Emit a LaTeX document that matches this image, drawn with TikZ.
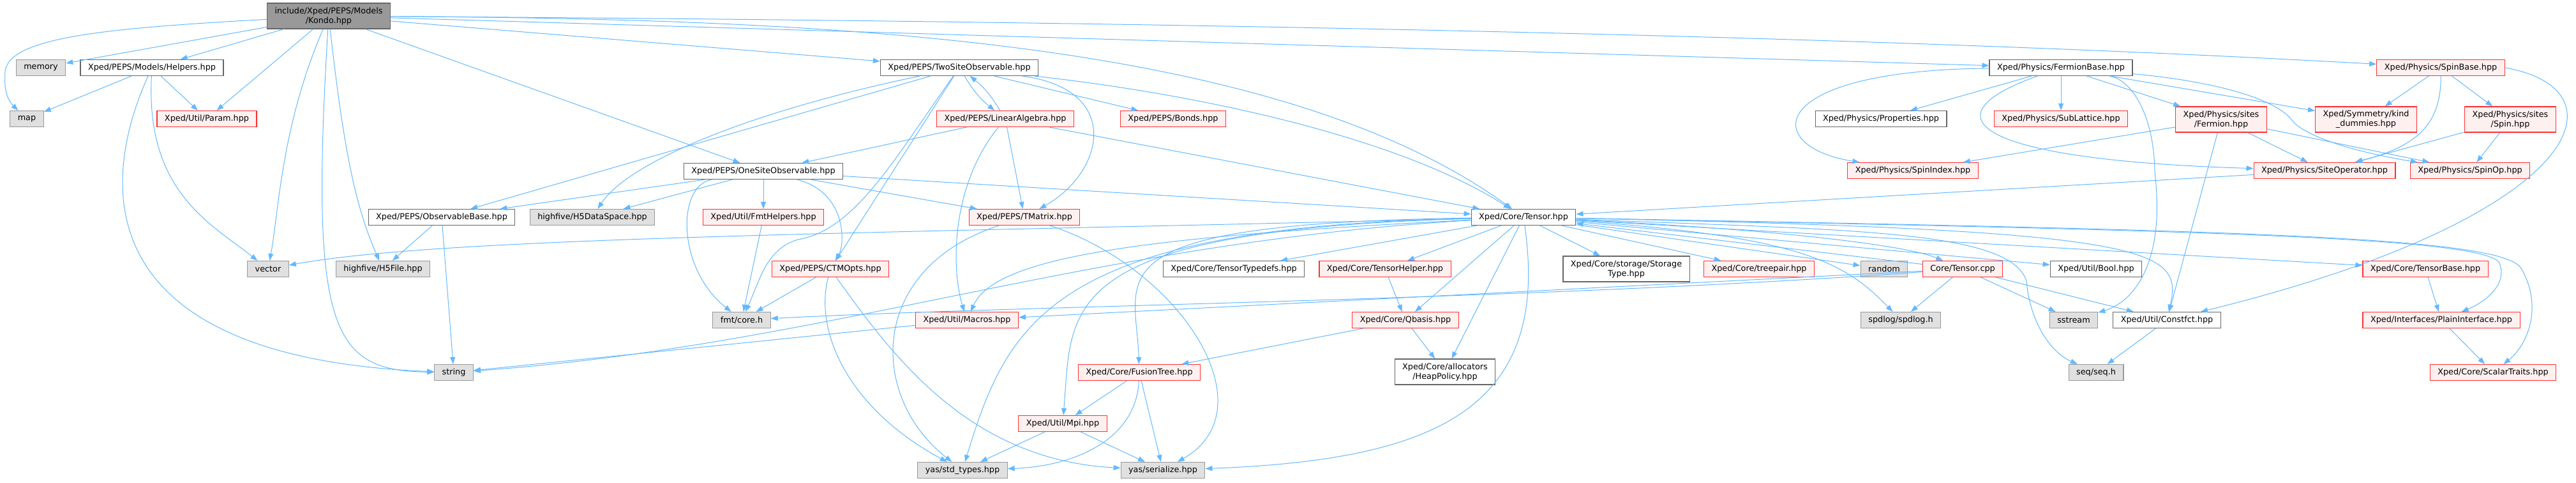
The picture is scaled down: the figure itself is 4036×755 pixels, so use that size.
\documentclass[tikz,border=0pt]{standalone}
\usepackage{fontspec}
\usepackage{tikz}
\usetikzlibrary{arrows.meta}
\newfontfamily\graphfont{DejaVu Sans}
\definecolor{edgeBlue}{HTML}{63B8FF}
\definecolor{boxGray}{HTML}{666666}
\definecolor{sysGray}{HTML}{999999}
\definecolor{sysFill}{HTML}{E0E0E0}
\definecolor{rootFill}{HTML}{999999}
\definecolor{missRed}{HTML}{FF3030}
\definecolor{missFill}{HTML}{FFF0F0}

\begin{document}
\begin{tikzpicture}[x=0.5pt, y=-0.5pt,
    fileBox/.style={rectangle, draw=boxGray, fill=white, line width=0.55pt, font=\graphfont\fontsize{6.4}{7.5}\selectfont, inner xsep=6pt, inner ysep=0pt, minimum height=12.5pt, align=center},
    sysBox/.style={fileBox, draw=sysGray, fill=sysFill},
    redBox/.style={fileBox, draw=missRed, fill=missFill},
    rootBox/.style={fileBox, draw=boxGray, fill=rootFill},
    twoLine/.style={minimum height=20pt},
    arrowStyle/.style={-{Triangle[length=5.5pt, width=4pt]}, draw=edgeBlue, line width=0.5pt}
]
    \useasboundingbox (0,0) rectangle (4036,755);

    \node[rootBox, twoLine] (kondo) at (515, 25) {include/Xped/PEPS/Models\\/Kondo.hpp};

    \node[sysBox] (memory) at (64, 106) {memory};
    \node[fileBox] (helpers) at (238, 106) {Xped/PEPS/Models/Helpers.hpp};
    \node[fileBox] (twosite) at (1503, 106) {Xped/PEPS/TwoSiteObservable.hpp};
    \node[fileBox] (fermbase) at (3229, 106) {Xped/Physics/FermionBase.hpp};
    \node[redBox] (spinbase) at (3824, 106) {Xped/Physics/SpinBase.hpp};

    \node[sysBox] (map) at (42, 186) {map};
    \node[redBox] (param) at (324, 186) {Xped/Util/Param.hpp};
    \node[redBox] (linalg) at (1575, 186) {Xped/PEPS/LinearAlgebra.hpp};
    \node[redBox] (bonds) at (1838, 186) {Xped/PEPS/Bonds.hpp};
    \node[fileBox] (props) at (2947, 186) {Xped/Physics/Properties.hpp};
    \node[redBox] (sublat) at (3229, 186) {Xped/Physics/SubLattice.hpp};
    \node[redBox, twoLine] (sfermion) at (3480, 187) {Xped/Physics/sites\\/Fermion.hpp};
    \node[redBox, twoLine] (kind) at (3707, 187) {Xped/Symmetry/kind\\\_dummies.hpp};
    \node[redBox, twoLine] (sspin) at (3933, 187) {Xped/Physics/sites\\/Spin.hpp};

    \node[fileBox] (onesite) at (1196, 268) {Xped/PEPS/OneSiteObservable.hpp};
    \node[redBox] (spinidx) at (2997, 267) {Xped/Physics/SpinIndex.hpp};
    \node[redBox] (siteop) at (3642, 267) {Xped/Physics/SiteOperator.hpp};
    \node[redBox] (spinop) at (3870, 267) {Xped/Physics/SpinOp.hpp};

    \node[fileBox] (obsbase) at (692, 340) {Xped/PEPS/ObservableBase.hpp};
    \node[sysBox] (hdspace) at (928, 340) {highfive/H5DataSpace.hpp};
    \node[redBox] (fmthelp) at (1196, 340) {Xped/Util/FmtHelpers.hpp};
    \node[redBox] (tmatrix) at (1605, 340) {Xped/PEPS/TMatrix.hpp};
    \node[fileBox] (tensor) at (2387, 340) {Xped/Core/Tensor.hpp};

    \node[sysBox] (vector) at (420, 421) {vector};
    \node[sysBox] (hfile) at (600, 421) {highfive/H5File.hpp};
    \node[redBox] (ctmopts) at (1301, 421) {Xped/PEPS/CTMOpts.hpp};
    \node[fileBox] (typedefs) at (1933, 421) {Xped/Core/TensorTypedefs.hpp};
    \node[redBox] (thelper) at (2170, 421) {Xped/Core/TensorHelper.hpp};
    \node[fileBox, twoLine] (storage) at (2548, 421) {Xped/Core/storage/Storage\\Type.hpp};
    \node[redBox] (treepair) at (2756, 421) {Xped/Core/treepair.hpp};
    \node[sysBox] (random) at (2952, 421) {random};
    \node[redBox] (tcpp) at (3075, 421) {Core/Tensor.cpp};
    \node[fileBox] (boolh) at (3284, 421) {Xped/Util/Bool.hpp};
    \node[redBox] (tbase) at (3800, 421) {Xped/Core/TensorBase.hpp};

    \node[sysBox] (fmtcore) at (1162, 501) {fmt/core.h};
    \node[redBox] (macros) at (1515, 501) {Xped/Util/Macros.hpp};
    \node[redBox] (qbasis) at (2202, 501) {Xped/Core/Qbasis.hpp};
    \node[sysBox] (spdlog) at (2978, 501) {spdlog/spdlog.h};
    \node[sysBox] (sstream) at (3249, 501) {sstream};
    \node[fileBox] (constfct) at (3395, 501) {Xped/Util/Constfct.hpp};
    \node[redBox] (plain) at (3825, 501) {Xped/Interfaces/PlainInterface.hpp};

    \node[sysBox] (strng) at (711, 583) {string};
    \node[redBox] (fusion) at (1785, 583) {Xped/Core/FusionTree.hpp};
    \node[fileBox, twoLine] (heap) at (2264, 582) {Xped/Core/allocators\\/HeapPolicy.hpp};
    \node[sysBox] (seq) at (3284, 583) {seq/seq.h};
    \node[redBox] (scalar) at (3906, 583) {Xped/Core/ScalarTraits.hpp};

    \node[redBox] (mpi) at (1665, 663) {Xped/Util/Mpi.hpp};
    \node[sysBox] (stdtypes) at (1508, 736) {yas/std\_types.hpp};
    \node[sysBox] (serial) at (1822, 736) {yas/serialize.hpp};

    \draw[arrowStyle] (kondo) .. controls (150,45) and (0,60) .. (8,120) .. controls (6,145) and (15,160) .. (map);
    \draw[arrowStyle] (kondo) -- (memory);
    \draw[arrowStyle] (kondo) -- (helpers);
    \draw[arrowStyle] (kondo) -- (param);
    \draw[arrowStyle] (kondo) .. controls (440,200) and (437,330) .. (vector);
    \draw[arrowStyle] (kondo) .. controls (485,520) and (520,580) .. (strng);
    \draw[arrowStyle] (kondo) .. controls (540,250) and (560,330) .. (hfile);
    \draw[arrowStyle] (kondo) -- (onesite);
    \draw[arrowStyle] (kondo) -- (twosite);
    \draw[arrowStyle] (kondo) .. controls (1300,30) and (2000,60) .. (tensor);
    \draw[arrowStyle] (kondo) -- (fermbase);
    \draw[arrowStyle] (kondo) .. controls (2000,35) and (3000,60) .. (spinbase);

    \draw[arrowStyle] (helpers) -- (map);
    \draw[arrowStyle] (helpers) -- (param);
    \draw[arrowStyle] (helpers) .. controls (228,300) and (330,350) .. (vector);
    \draw[arrowStyle] (helpers) .. controls (150,300) and (150,560) .. (strng);

    \draw[arrowStyle] (twosite) to[bend right=10] (linalg);
    \draw[arrowStyle] (linalg) to[bend right=10] (twosite);
    \draw[arrowStyle] (twosite) -- (bonds);
    \draw[arrowStyle] (twosite) .. controls (1760,140) and (1730,270) .. (tmatrix);
    \draw[arrowStyle] (twosite) -- (obsbase);
    \draw[arrowStyle] (twosite) .. controls (1150,180) and (980,260) .. (hdspace);
    \draw[arrowStyle] (twosite) -- (ctmopts);
    \draw[arrowStyle] (twosite) .. controls (1400,250) and (1340,360) .. (1250,375) .. controls (1200,390) and (1190,440) .. (fmtcore);
    \draw[arrowStyle] (twosite) .. controls (1900,150) and (2200,220) .. (tensor);

    \draw[arrowStyle] (linalg) -- (onesite);
    \draw[arrowStyle] (linalg) -- (tmatrix);
    \draw[arrowStyle] (linalg) .. controls (1490,290) and (1490,420) .. (macros);
    \draw[arrowStyle] (linalg) -- (tensor);

    \draw[arrowStyle] (onesite) -- (obsbase);
    \draw[arrowStyle] (onesite) -- (hdspace);
    \draw[arrowStyle] (onesite) -- (fmthelp);
    \draw[arrowStyle] (onesite) .. controls (1060,290) and (1060,420) .. (fmtcore);
    \draw[arrowStyle] (onesite) .. controls (1325,300) and (1325,380) .. (ctmopts);
    \draw[arrowStyle] (onesite) -- (tmatrix);
    \draw[arrowStyle] (onesite) -- (tensor);

    \draw[arrowStyle] (obsbase) -- (hfile);
    \draw[arrowStyle] (obsbase) -- (strng);
    \draw[arrowStyle] (fmthelp) -- (fmtcore);

    \draw[arrowStyle] (ctmopts) -- (fmtcore);
    \draw[arrowStyle] (ctmopts) .. controls (1275,520) and (1330,640) .. (stdtypes);
    \draw[arrowStyle] (ctmopts) .. controls (1400,560) and (1520,720) .. (serial);

    \draw[arrowStyle] (tmatrix) .. controls (1360,420) and (1360,620) .. (stdtypes);
    \draw[arrowStyle] (tmatrix) .. controls (1850,420) and (1990,640) .. (serial);

    \draw[arrowStyle] (tensor) .. controls (1400,365) and (700,370) .. (vector);
    \draw[arrowStyle] (tensor) .. controls (1700,380) and (1300,540) .. (strng);
    \draw[arrowStyle] (tensor) .. controls (1800,370) and (1560,400) .. (macros);
    \draw[arrowStyle] (tensor) .. controls (1650,355) and (1580,500) .. (stdtypes);
    \draw[arrowStyle] (tensor) .. controls (2430,640) and (2250,720) .. (serial);
    \draw[arrowStyle] (tensor) -- (typedefs);
    \draw[arrowStyle] (tensor) -- (thelper);
    \draw[arrowStyle] (tensor) -- (qbasis);
    \draw[arrowStyle] (tensor) -- (heap);
    \draw[arrowStyle] (tensor) .. controls (1700,350) and (1780,430) .. (fusion);
    \draw[arrowStyle] (tensor) .. controls (1650,360) and (1680,480) .. (mpi);
    \draw[arrowStyle] (tensor) -- (storage);
    \draw[arrowStyle] (tensor) -- (treepair);
    \draw[arrowStyle] (tensor) -- (random);
    \draw[arrowStyle] (tensor) .. controls (2820,370) and (2890,410) .. (spdlog);
    \draw[arrowStyle] (tensor) .. controls (2800,360) and (2990,385) .. (tcpp);
    \draw[arrowStyle] (tensor) -- (boolh);
    \draw[arrowStyle] (tensor) .. controls (2900,360) and (3150,360) .. (3175,440) .. controls (3180,500) and (3210,550) .. (seq);
    \draw[arrowStyle] (tensor) .. controls (3380,360) and (3420,390) .. (constfct);
    \draw[arrowStyle] (tensor) -- (tbase);
    \draw[arrowStyle] (tensor) .. controls (3400,360) and (3880,370) .. (3915,410) .. controls (3930,440) and (3900,470) .. (plain);
    \draw[arrowStyle] (tensor) .. controls (3500,360) and (3920,370) .. (3950,420) .. controls (3985,480) and (3960,540) .. (scalar);

    \draw[arrowStyle] (tcpp) -- (tensor);
    \draw[arrowStyle] (tcpp) -- (spdlog);
    \draw[arrowStyle] (tcpp) -- (sstream);
    \draw[arrowStyle] (tcpp) -- (constfct);
    \draw[arrowStyle] (tcpp) .. controls (2400,470) and (1600,478) .. (fmtcore);
    \draw[arrowStyle] (tcpp) -- (macros);

    \draw[arrowStyle] (thelper) -- (qbasis);
    \draw[arrowStyle] (qbasis) -- (heap);
    \draw[arrowStyle] (qbasis) -- (fusion);
    \draw[arrowStyle] (fusion) -- (mpi);
    \draw[arrowStyle] (fusion) .. controls (1780,690) and (1680,730) .. (stdtypes);
    \draw[arrowStyle] (fusion) -- (serial);
    \draw[arrowStyle] (mpi) -- (stdtypes);
    \draw[arrowStyle] (mpi) -- (serial);
    \draw[arrowStyle] (macros) -- (strng);

    \draw[arrowStyle] (fermbase) -- (props);
    \draw[arrowStyle] (fermbase) -- (sublat);
    \draw[arrowStyle] (fermbase) .. controls (2760,110) and (2760,230) .. (spinidx);
    \draw[arrowStyle] (fermbase) -- (sfermion);
    \draw[arrowStyle] (fermbase) -- (kind);
    \draw[arrowStyle] (fermbase) .. controls (3020,180) and (3080,250) .. (siteop);
    \draw[arrowStyle] (fermbase) .. controls (3450,125) and (3560,150) .. (3590,187) .. controls (3610,215) and (3700,240) .. (spinop);
    \draw[arrowStyle] (fermbase) .. controls (3340,125) and (3375,180) .. (3376,270) .. controls (3392,400) and (3350,470) .. (sstream);

    \draw[arrowStyle] (sfermion) -- (spinidx);
    \draw[arrowStyle] (sfermion) -- (siteop);
    \draw[arrowStyle] (sfermion) -- (spinop);
    \draw[arrowStyle] (sfermion) -- (constfct);

    \draw[arrowStyle] (spinbase) -- (kind);
    \draw[arrowStyle] (spinbase) -- (sspin);
    \draw[arrowStyle] (spinbase) .. controls (3825,200) and (3780,230) .. (siteop);
    \draw[arrowStyle] (spinbase.east) .. controls (4120,140) and (4050,340) .. (constfct);

    \draw[arrowStyle] (sspin) -- (siteop);
    \draw[arrowStyle] (sspin) -- (spinop);
    \draw[arrowStyle] (siteop) -- (tensor);
    \draw[arrowStyle] (constfct) -- (seq);
    \draw[arrowStyle] (tbase) -- (plain);
    \draw[arrowStyle] (plain) -- (scalar);
\end{tikzpicture}
\end{document}
